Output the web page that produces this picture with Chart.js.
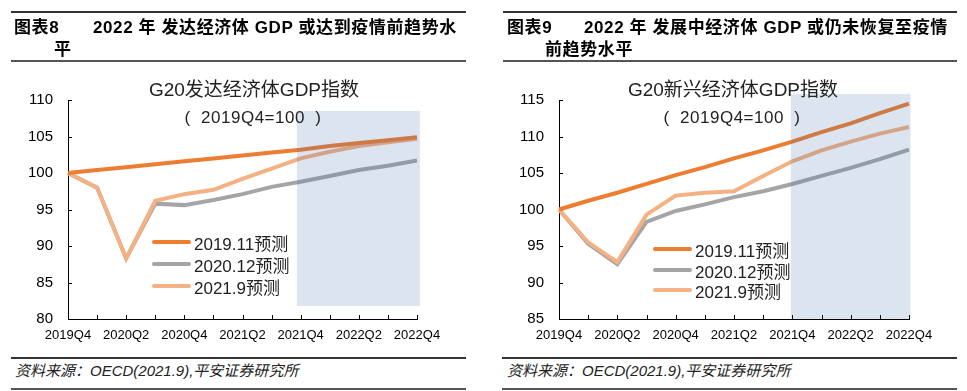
<!DOCTYPE html>
<html><head><meta charset="utf-8">
<script src="https://cdn.jsdelivr.net/npm/chart.js@4"></script>
<style>
body{margin:0;width:967px;height:391px;background:#fff;position:relative;overflow:hidden;font-family:"Liberation Sans","Noto Sans CJK SC",sans-serif;color:#000;}
.t{position:absolute;white-space:pre;line-height:20px;}
.rule{position:absolute;}
.head{font-size:17px;font-weight:bold;letter-spacing:0.6px;}
.ctitle{font-size:19px;transform:translateX(-50%);color:#222;}
.csub{font-size:17px;transform:translateX(-50%);color:#222;letter-spacing:0.5px;}
.foot{font-size:15px;font-style:italic;color:#222;}
.leg{position:absolute;display:flex;align-items:center;font-size:17px;color:#222;white-space:nowrap;}
.leg span.ln{display:inline-block;width:39px;height:4px;border-radius:2px;margin-right:3px;}
canvas{position:absolute;top:0;}
</style></head>
<body>
<canvas id="c1" width="483" height="345" style="left:0"></canvas>
<canvas id="c2" width="484" height="345" style="left:483px"></canvas>

<div class="rule" style="left:11px;width:455px;top:11px;height:2px;background:#333"></div>
<div class="rule" style="left:11px;width:455px;top:60px;height:2px;background:#555"></div>
<div class="t head" style="left:14px;top:18px">图表8</div>
<div class="t head" style="left:93px;top:18px">2022 年 发达经济体 GDP 或达到疫情前趋势水</div>
<div class="t head" style="left:54px;top:40px">平</div>

<div class="rule" style="left:503px;width:454px;top:11px;height:2px;background:#333"></div>
<div class="rule" style="left:503px;width:454px;top:60px;height:2px;background:#555"></div>
<div class="t head" style="left:507px;top:18px">图表9</div>
<div class="t head" style="left:584px;top:18px">2022 年 发展中经济体 GDP 或仍未恢复至疫情</div>
<div class="t head" style="left:545px;top:40px">前趋势水平</div>

<div class="t ctitle" style="left:254px;top:80px">G20发达经济体GDP指数</div>
<div class="t csub" style="left:253px;top:108px">(  2019Q4=100  )</div>
<div class="t ctitle" style="left:733px;top:80px">G20新兴经济体GDP指数</div>
<div class="t csub" style="left:732px;top:108px">(  2019Q4=100  )</div>

<div id="leg1"></div>
<div id="leg2"></div>

<div class="rule" style="left:11px;width:455px;top:357px;height:2px;background:#333"></div>
<div class="rule" style="left:11px;width:455px;top:388px;height:2px;background:#555"></div>
<div class="t foot" style="left:15px;top:361px">资料来源：OECD(2021.9),平安证券研究所</div>
<div class="rule" style="left:502px;width:455px;top:357px;height:2px;background:#333"></div>
<div class="rule" style="left:502px;width:455px;top:388px;height:2px;background:#555"></div>
<div class="t foot" style="left:507px;top:361px">资料来源：OECD(2021.9),平安证券研究所</div>

<script>
// ---- data ----
const quarters = ['2019Q4','2020Q1','2020Q2','2020Q3','2020Q4','2021Q1','2021Q2','2021Q3','2021Q4','2022Q1','2022Q2','2022Q3','2022Q4'];
const seriesNames = ['2019.11预测','2020.12预测','2021.9预测'];
const seriesColors = ['#ED7D31','#A5A5A5','#F4B183'];

// G20 developed economies
const dev2019_11 = [100, 100.4, 100.8, 101.2, 101.6, 102.0, 102.4, 102.8, 103.2, 103.7, 104.1, 104.5, 104.9];
const dev2020_12 = [100, 98.0, 88.3, 95.8, 95.6, 96.3, 97.1, 98.1, 98.8, 99.6, 100.4, 101.0, 101.7];
const dev2021_9  = [100, 98.0, 88.3, 96.2, 97.1, 97.7, 99.2, 100.6, 102.0, 102.9, 103.7, 104.2, 104.7];
const devYTicks = [80, 85, 90, 95, 100, 105, 110];

// G20 emerging economies
const emg2019_11 = [100, 101.2, 102.3, 103.5, 104.7, 105.8, 107.0, 108.1, 109.3, 110.6, 111.8, 113.2, 114.5];
const emg2020_12 = [100, 95.3, 92.5, 98.3, 99.8, 100.7, 101.7, 102.5, 103.5, 104.6, 105.7, 106.9, 108.2];
const emg2021_9  = [100, 95.5, 92.8, 99.3, 101.9, 102.3, 102.5, 104.6, 106.6, 108.1, 109.3, 110.4, 111.3];
const emgYTicks = [85, 90, 95, 100, 105, 110, 115];

// forecast-period shading, in data units [xFrom, xTo, yLow, yHigh]
const devShade = [7.87, 12.1, 81.8, 108.5];
const emgShade = [7.95, 12.05, 85, 115.8];

const FONT = '"Liberation Sans","Noto Sans CJK SC",sans-serif';

const shadePlugin = {
  id:'shade',
  afterDatasetsDraw(chart, args, opts){
    const {ctx, scales:{x,y}} = chart;
    const r = opts.range;
    const x0 = x.getPixelForValue(r[0]), x1 = x.getPixelForValue(r[1]);
    const y0 = y.getPixelForValue(r[3]), y1 = y.getPixelForValue(r[2]);
    ctx.save();
    ctx.fillStyle = 'rgba(70,110,170,0.19)';
    ctx.fillRect(x0, y0, x1-x0, y1-y0);
    ctx.restore();
  }
};
const tickPlugin = {
  id:'tickMarks',
  beforeDatasetsDraw(chart){
    const {ctx, scales:{x,y}, chartArea} = chart;
    ctx.save();
    ctx.strokeStyle = '#000'; ctx.lineWidth = 1;
    for(let i=0;i<x.ticks.length;i++){
      const px = Math.round(x.getPixelForTick(i))+0.5;
      ctx.beginPath(); ctx.moveTo(px, chartArea.bottom); ctx.lineTo(px, chartArea.bottom-4); ctx.stroke();
    }
    for(let i=0;i<y.ticks.length;i++){
      const py = Math.round(y.getPixelForTick(i))+0.5;
      ctx.beginPath(); ctx.moveTo(chartArea.left, py); ctx.lineTo(chartArea.left+4, py); ctx.stroke();
    }
    ctx.restore();
  }
};

function makeChart(id, series, yTicks, shade, yWidth, rightPad){
  const orders = [0, 2, 1];
  new Chart(document.getElementById(id), {
    type:'line',
    data:{
      labels: quarters,
      datasets: series.map((d,i)=>({
        label: seriesNames[i], data: d, borderColor: seriesColors[i], backgroundColor: seriesColors[i],
        borderWidth: 4, pointRadius: 0, tension: 0, fill:false, order: orders[i]
      }))
    },
    options:{
      responsive:false, animation:false, devicePixelRatio:1,
      layout:{padding:{top:100, right:rightPad, left:0, bottom:0}},
      plugins:{legend:{display:false}, tooltip:{enabled:false}, title:{display:false}, shade:{range:shade}},
      scales:{
        x:{
          type:'category', offset:false,
          grid:{display:true, drawOnChartArea:false, drawTicks:false},
          border:{display:true, color:'#000', width:1},
          ticks:{autoSkip:false, maxRotation:0, padding:9, color:'#000', font:{family:FONT, size:13},
            callback:(v,i)=> i%2===0 ? quarters[i] : ''},
          afterFit:(s)=>{ s.height = 26; }
        },
        y:{
          min: yTicks[0], max: yTicks[yTicks.length-1],
          grid:{display:true, drawOnChartArea:false, drawTicks:false},
          border:{display:true, color:'#000', width:1},
          afterBuildTicks:(s)=>{ s.ticks = yTicks.map(v=>({value:v})); },
          ticks:{padding:15, color:'#000', font:{family:FONT, size:15}},
          afterFit:(s)=>{ s.width = yWidth; }
        }
      }
    },
    plugins:[shadePlugin, tickPlugin]
  });
}

makeChart('c1', [dev2019_11, dev2020_12, dev2021_9], devYTicks, devShade, 68, 66);
makeChart('c2', [emg2019_11, emg2020_12, emg2021_9], emgYTicks, emgShade, 76, 58);

function legend(id, left, tops){
  const el = document.getElementById(id);
  seriesNames.forEach((n,i)=>{
    const d = document.createElement('div');
    d.className = 'leg';
    d.style.left = left+'px'; d.style.top = (tops[i]-10)+'px'; d.style.height='20px';
    d.innerHTML = '<span class="ln" style="background:'+seriesColors[i]+'"></span>'+n;
    el.appendChild(d);
  });
}
legend('leg1', 152, [242, 264, 286]);
legend('leg2', 653, [249, 270, 290]);
</script>
</body></html>
